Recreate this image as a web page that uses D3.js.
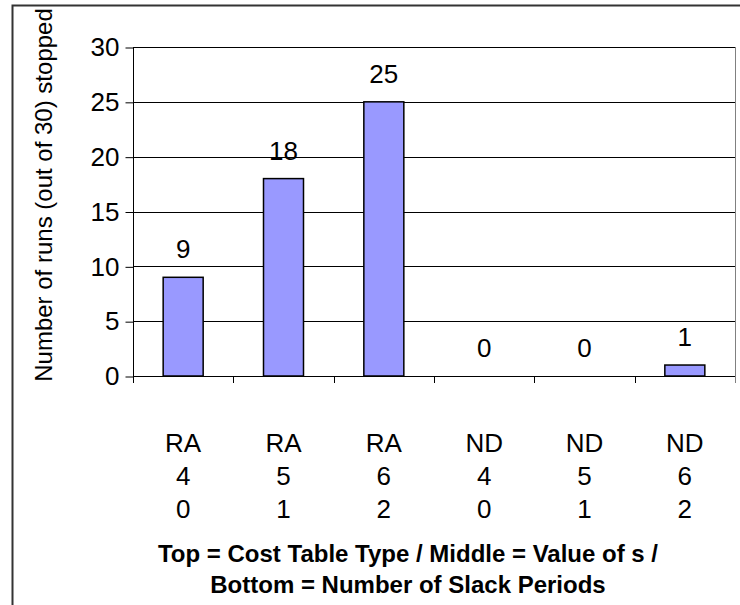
<!DOCTYPE html>
<html>
<head>
<meta charset="utf-8">
<script src="https://cdn.jsdelivr.net/npm/d3@7"></script>
<style>
  html, body { margin: 0; padding: 0; background: #fff; }
  svg { display: block; }
  text { font-family: Arial, "Liberation Sans", sans-serif; fill: #000; }
</style>
</head>
<body>
<svg id="chart" width="740" height="605"></svg>
<script>
// Runs stopped per configuration
const tableType = ["RA", "RA", "RA", "ND", "ND", "ND"];
const sValue = ["4", "5", "6", "4", "5", "6"];
const slackPeriods = ["0", "1", "2", "0", "1", "2"];
const runsStopped = [9, 18, 25, 0, 0, 1];
const yTicks = [0, 5, 10, 15, 20, 25, 30];

const svg = d3.select("#chart");
const W = 740, H = 605;
const plot = { left: 133, right: 735, top: 47, bottom: 376 };
const FS = 26;

// outer chart frame
svg.append("rect")
  .attr("x", 12.5).attr("y", 5.5)
  .attr("width", W).attr("height", H)
  .attr("fill", "none").attr("stroke", "#333").attr("stroke-width", 2);

const idx = d3.range(runsStopped.length);
const x = d3.scaleBand().domain(idx).range([plot.left, plot.right]).paddingInner(0).paddingOuter(0);
const y = d3.scaleLinear().domain([0, 30]).range([plot.bottom, plot.top]);

// gridlines
svg.append("g").selectAll("line").data(yTicks.filter(t => t > 0)).join("line")
  .attr("x1", plot.left).attr("x2", plot.right)
  .attr("y1", d => Math.round(y(d)) + 0.5).attr("y2", d => Math.round(y(d)) + 0.5)
  .attr("stroke", "#000").attr("stroke-width", 1);

// right edge of plot area
svg.append("line")
  .attr("x1", plot.right + 0.5).attr("x2", plot.right + 0.5)
  .attr("y1", plot.top).attr("y2", plot.bottom)
  .attr("stroke", "#808080").attr("stroke-width", 1);

// y axis
const yAxis = d3.axisLeft(y).tickValues(yTicks).tickSize(8).tickPadding(6).tickFormat(d3.format("d"));
const gy = svg.append("g").attr("transform", `translate(${plot.left + 0.5},0.5)`).call(yAxis);
gy.select(".domain").attr("stroke", "#000").attr("d", `M0,${plot.top}V${plot.bottom + 0.5}`);
gy.selectAll(".tick line").attr("stroke", "#000");
gy.selectAll(".tick text").attr("font-size", FS).attr("font-family", "Arial, 'Liberation Sans', sans-serif").attr("fill", "#000");

// bars
const barW = 40;
svg.append("g").selectAll("rect").data(idx).join("rect")
  .attr("x", i => x(i) + x.bandwidth() / 2 - barW / 2)
  .attr("y", i => y(runsStopped[i]))
  .attr("width", barW)
  .attr("height", i => y(0) - y(runsStopped[i]))
  .attr("fill", "#9999FF").attr("stroke", "#000").attr("stroke-width", 1.5);

// x axis line and category separators
svg.append("line")
  .attr("x1", plot.left).attr("x2", plot.right + 1)
  .attr("y1", plot.bottom + 0.5).attr("y2", plot.bottom + 0.5)
  .attr("stroke", "#000");
svg.append("g").selectAll("line").data(d3.range(runsStopped.length + 1)).join("line")
  .attr("x1", i => Math.round(plot.left + i * x.bandwidth()) + 0.5)
  .attr("x2", i => Math.round(plot.left + i * x.bandwidth()) + 0.5)
  .attr("y1", plot.bottom).attr("y2", plot.bottom + 7)
  .attr("stroke", i => i === runsStopped.length ? "#808080" : "#000");

// value labels
svg.append("g").selectAll("text").data(idx).join("text")
  .attr("x", i => x(i) + x.bandwidth() / 2)
  .attr("y", i => y(runsStopped[i]) - 19)
  .attr("text-anchor", "middle").attr("font-size", FS)
  .text(i => runsStopped[i]);

// three-line category labels
const rows = [tableType, sValue, slackPeriods];
rows.forEach((row, r) => {
  svg.append("g").selectAll("text").data(idx).join("text")
    .attr("x", i => x(i) + x.bandwidth() / 2)
    .attr("y", 451.5 + r * 33)
    .attr("text-anchor", "middle").attr("font-size", FS)
    .text(i => row[i]);
});

// axis titles
svg.append("text")
  .attr("transform", `translate(52,195) rotate(-90)`)
  .attr("text-anchor", "middle").attr("font-size", 24)
  .text("Number of runs  (out of 30) stopped");

const xTitle = svg.append("text")
  .attr("x", 408).attr("y", 561.5)
  .attr("text-anchor", "middle").attr("font-size", 24).attr("font-weight", "bold");
xTitle.append("tspan").attr("x", 408).attr("dy", 0).text("Top = Cost Table Type / Middle = Value of s /");
xTitle.append("tspan").attr("x", 408).attr("dy", 31).text("Bottom = Number of Slack Periods");
</script>
</body>
</html>
